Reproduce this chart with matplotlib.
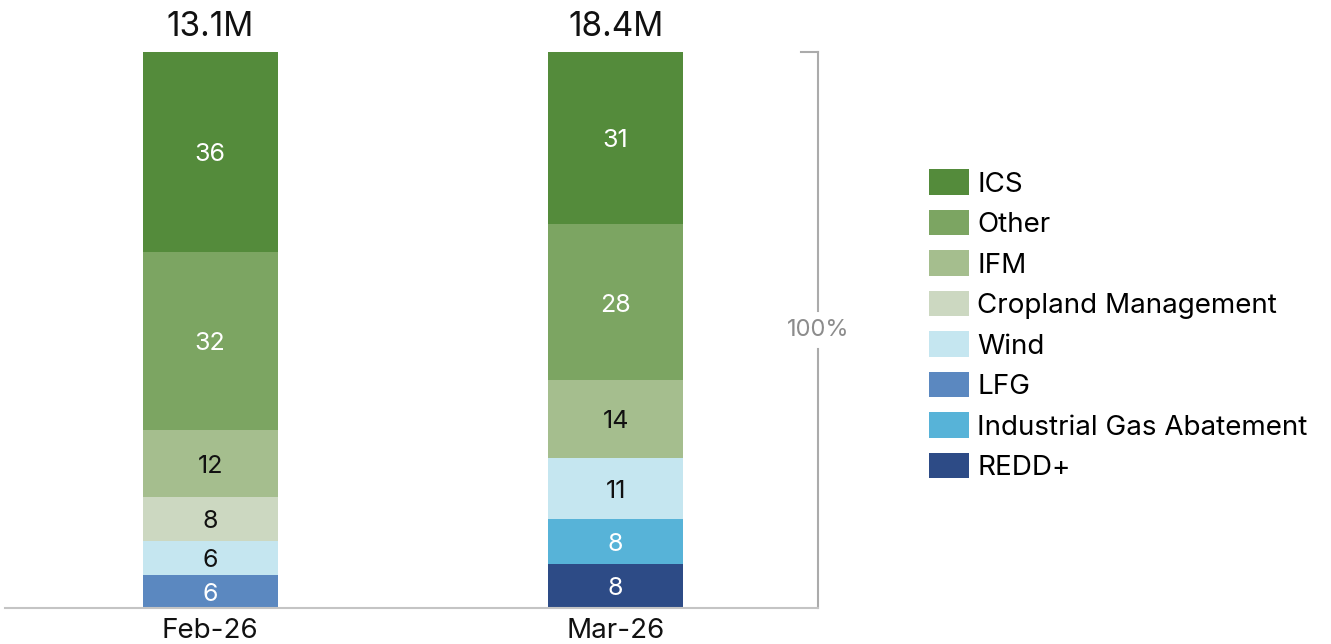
import numpy as np
import matplotlib.pyplot as plt
from matplotlib.patches import Patch

plt.rcParams['font.family'] = ['Inter', 'DejaVu Sans']

months = ['Feb-26', 'Mar-26']
totals = ['13.1M', '18.4M']

# segment shares (%) per month, bottom to top
categories = ['REDD+', 'Industrial Gas Abatement', 'LFG', 'Wind',
              'Cropland Management', 'IFM', 'Other', 'ICS']
feb_share = [0, 0, 6, 6, 8, 12, 32, 36]
mar_share = [8, 8, 0, 11, 0, 14, 28, 31]

colors = {
    'ICS': '#548b3b',
    'Other': '#7ca562',
    'IFM': '#a5be8e',
    'Cropland Management': '#ccd8c1',
    'Wind': '#c5e6f0',
    'LFG': '#5b88c0',
    'Industrial Gas Abatement': '#57b3d8',
    'REDD+': '#2d4b86',
}
dark_text = {'IFM', 'Cropland Management', 'Wind'}

fig = plt.figure(figsize=(13.31, 6.44), dpi=100)
ax = fig.add_axes([0.0038, 0.0559, 0.611, 0.944])

x = np.arange(len(months))
shares = np.array([feb_share, mar_share])
bottom = np.zeros(len(months))
for i, cat in enumerate(categories):
    vals = shares[:, i]
    ax.bar(x, vals, width=0.333, bottom=bottom, color=colors[cat], edgecolor='none')
    for xi, v, b in zip(x, vals, bottom):
        if v > 0:
            tc = '#111111' if cat in dark_text else 'white'
            ax.text(xi, b + v / 2 - 0.5, f'{v:g}', ha='center', va='center',
                    fontsize=18, color=tc)
    bottom += vals

for xi, t, top in zip(x, totals, bottom):
    ax.text(xi, top + 4.5, t, ha='center', va='center', fontsize=24, color='#111111')

ax.set_xlim(-0.506, 1.5)
ax.set_ylim(0, 109.35)
ax.set_xticks(x)
ax.set_xticklabels(months, fontsize=20, color='#111111')
ax.tick_params(axis='x', length=0, pad=7)
ax.set_yticks([])
for side in ['top', 'right', 'left']:
    ax.spines[side].set_visible(False)
ax.spines['bottom'].set_color('#c4c4c4')
ax.spines['bottom'].set_linewidth(1.5)

# 100% bracket on the right
bc = '#ababab'
ax.plot([1.5, 1.5], [0, 46.5], color=bc, lw=1.5, clip_on=False)
ax.plot([1.5, 1.5], [53.5, 100], color=bc, lw=1.5, clip_on=False)
ax.plot([1.457, 1.5], [100, 100], color=bc, lw=1.5, clip_on=False)
ax.text(1.5, 50, '100%', ha='center', va='center', fontsize=17, color='#8c8c8c')

handles = [Patch(facecolor=colors[c], edgecolor='none', label=c) for c in categories[::-1]]
fig.legend(handles=handles, loc='upper left', bbox_to_anchor=(0.698, 0.737),
           frameon=False, fontsize=20, handlelength=1.44, handleheight=1.04,
           labelspacing=0.44, handletextpad=0.29, borderpad=0, borderaxespad=0)

fig.savefig('out.png', dpi=100)
